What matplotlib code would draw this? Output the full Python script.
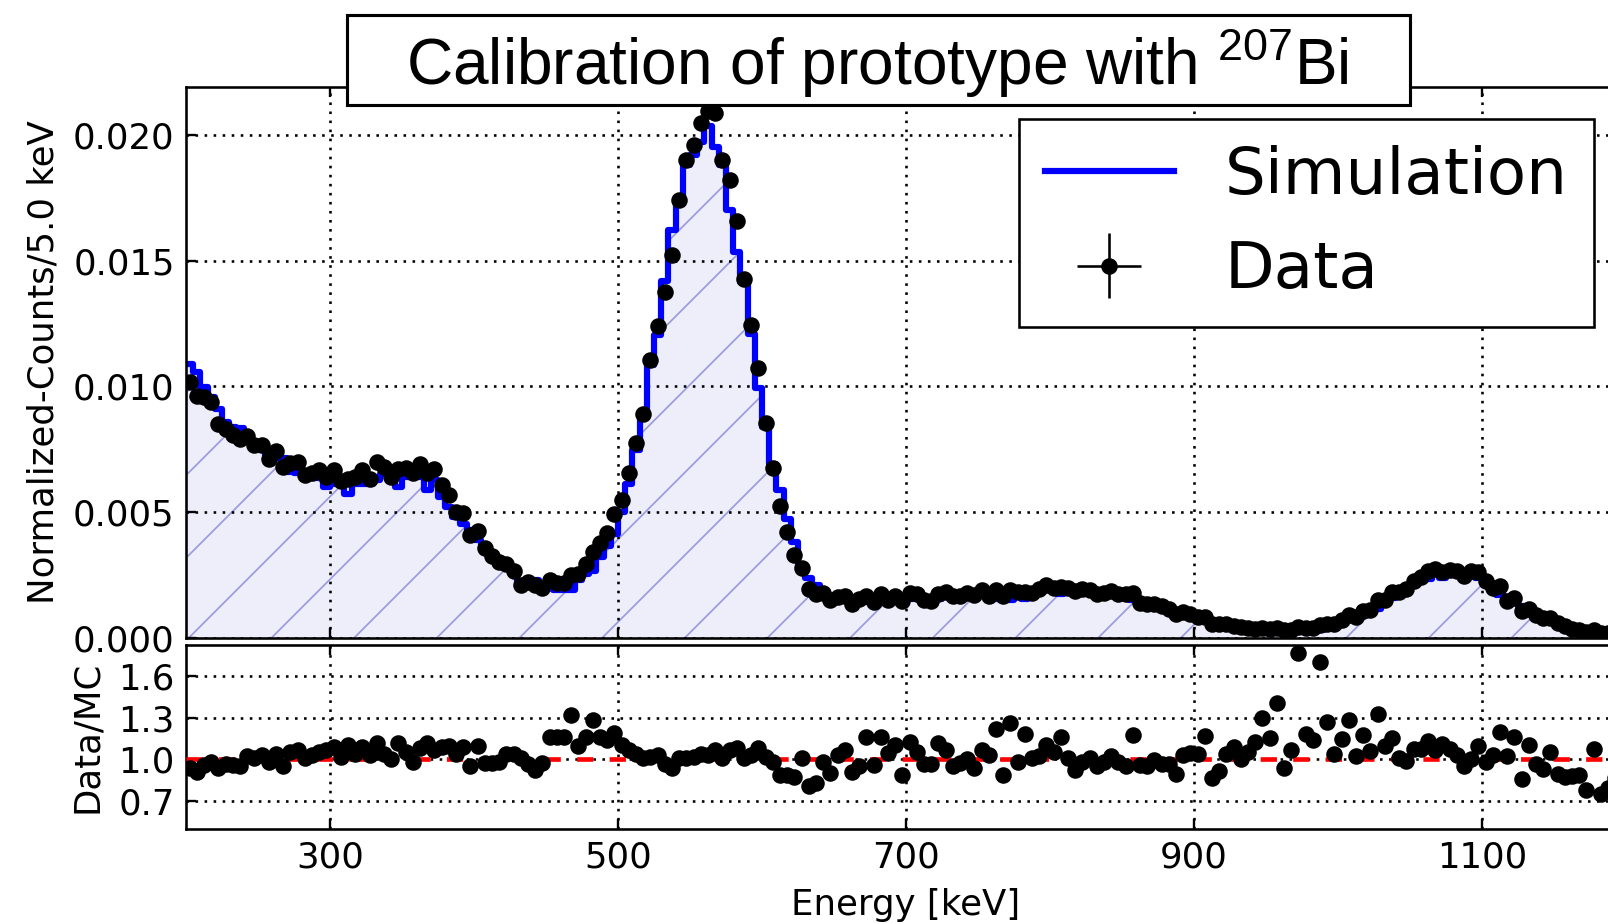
import matplotlib
matplotlib.use('Agg')
import matplotlib.pyplot as plt
import numpy as np
from matplotlib.patches import Rectangle
from matplotlib.ticker import FormatStrFormatter

plt.rcParams['mathtext.fontset'] = 'custom'
plt.rcParams['mathtext.rm'] = 'Liberation Sans'
plt.rcParams['hatch.linewidth'] = 0.5

DPI = 248  # small figure at high dpi, sizes below are in points

# 5 keV bins from 200 to 1200 keV
bin_edges = np.arange(200, 1205, 5)

# simulation, normalized counts per bin (x 1e-3)
mc = np.array([
    10.9, 10.57, 9.97, 9.58, 9.1, 8.58, 8.39, 8.33, 7.86, 7.59,
    7.46, 7.26, 7.14, 7.14, 6.6, 6.55, 6.4, 6.35, 6.35, 6.0,
    6.14, 6.14, 5.74, 6.14, 6.14, 6.14, 6.27, 6.53, 6.4, 6.0,
    6.4, 6.67, 6.4, 5.87, 6.27, 5.6, 5.2, 4.8, 4.55, 4.29,
    3.89, 3.69, 3.36, 3.1, 2.83, 2.57, 2.1, 2.3, 2.3, 2.04,
    1.97, 1.9, 1.9, 1.9, 2.32, 2.54, 2.68, 3.24, 3.66, 4.15,
    5.0, 6.13, 7.46, 8.8, 10.85, 12.04, 14.2, 16.2, 17.25, 18.8,
    19.2, 19.7, 20.35, 19.5, 18.8, 17.0, 15.35, 14.15, 12.1, 9.93,
    8.38, 6.9, 5.9, 4.72, 3.8, 2.75, 2.39, 2.11, 1.83, 1.69,
    1.57, 1.57, 1.51, 1.64, 1.44, 1.51, 1.51, 1.44, 1.51, 1.64,
    1.57, 1.64, 1.57, 1.51, 1.57, 1.71, 1.77, 1.71, 1.77, 1.84,
    1.77, 1.64, 1.55, 1.9, 1.5, 1.85, 1.55, 1.77, 1.9, 1.9,
    1.9, 1.75, 1.97, 2.04, 1.97, 1.9, 1.84, 1.84, 1.84, 1.77,
    1.84, 1.51, 1.44, 1.44, 1.38, 1.31, 1.2, 1.08, 1.0, 0.92,
    0.8, 0.73, 0.66, 0.6, 0.53, 0.45, 0.42, 0.38, 0.33, 0.3,
    0.32, 0.27, 0.33, 0.3, 0.25, 0.33, 0.36, 0.3, 0.45, 0.55,
    0.62, 0.7, 0.83, 0.93, 1.06, 1.15, 1.4, 1.59, 1.8, 1.98,
    2.12, 2.25, 2.35, 2.58, 2.38, 2.51, 2.58, 2.58, 2.65, 2.38,
    2.31, 1.92, 1.72, 1.46, 1.39, 1.26, 1.06, 0.93, 0.86, 0.75,
    0.66, 0.55, 0.42, 0.36, 0.32, 0.28, 0.26, 0.24, 0.22, 0.2,
]) * 1e-3

# measured data, same bins (x 1e-3)
data = np.array([
    10.19, 9.62, 9.57, 9.39, 8.51, 8.32, 8.05, 7.91, 8.02, 7.67,
    7.68, 7.11, 7.43, 6.78, 6.96, 7.01, 6.46, 6.54, 6.67, 6.42,
    6.69, 6.26, 6.31, 6.39, 6.69, 6.32, 6.99, 6.79, 6.40, 6.72,
    6.75, 6.54, 6.91, 6.55, 6.71, 6.10, 5.69, 4.99, 4.96, 4.08,
    4.26, 3.58, 3.26, 3.04, 2.94, 2.67, 2.12, 2.23, 2.12, 1.98,
    2.29, 2.20, 2.20, 2.51, 2.55, 2.95, 3.43, 3.76, 4.17, 4.94,
    5.50, 6.56, 7.76, 8.89, 11.07, 12.40, 13.77, 15.23, 17.42, 18.99,
    19.58, 20.49, 20.96, 20.87, 18.99, 18.19, 16.58, 14.29, 12.46, 10.72,
    8.55, 6.76, 5.25, 4.20, 3.31, 2.78, 1.94, 1.75, 1.79, 1.52,
    1.62, 1.68, 1.37, 1.56, 1.67, 1.45, 1.75, 1.51, 1.66, 1.46,
    1.77, 1.73, 1.52, 1.46, 1.75, 1.83, 1.68, 1.66, 1.77, 1.72,
    1.89, 1.69, 1.89, 1.69, 1.89, 1.81, 1.83, 1.79, 1.94, 2.09,
    2.00, 2.03, 1.99, 1.88, 1.93, 1.92, 1.75, 1.80, 1.88, 1.73,
    1.75, 1.77, 1.38, 1.37, 1.37, 1.27, 1.16, 0.97, 1.03, 0.96,
    0.83, 0.85, 0.57, 0.55, 0.55, 0.49, 0.42, 0.40, 0.37, 0.39,
    0.37, 0.38, 0.31, 0.32, 0.44, 0.39, 0.41, 0.51, 0.57, 0.57,
    0.71, 0.90, 0.85, 1.09, 1.12, 1.52, 1.53, 1.83, 1.82, 1.96,
    2.27, 2.41, 2.66, 2.76, 2.64, 2.69, 2.66, 2.45, 2.65, 2.61,
    2.26, 1.98, 2.06, 1.49, 1.61, 1.08, 1.17, 0.90, 0.80, 0.79,
    0.59, 0.48, 0.37, 0.32, 0.25, 0.30, 0.195, 0.19, 0.19, 0.18,
]) * 1e-3

centers = bin_edges[:-1] + 2.5
ratio = data / mc

fig = plt.figure(figsize=(1608 / DPI, 924 / DPI), dpi=DPI)
# the axes run past the right edge of the figure, as in the original crop
ax = fig.add_axes([0.1157, 0.3095, 0.8955, 0.5963])
ax2 = fig.add_axes([0.1157, 0.1028, 0.8955, 0.1991], sharex=ax)

grid_kw = dict(color='k', linestyle=(0, (1, 2.5)), linewidth=0.75)

ax.stairs(mc, bin_edges, fill=True, facecolor='#eeeefa', edgecolor='#9a9ae0',
          hatch='/', linewidth=0, zorder=1)
sim, = ax.step(bin_edges, np.append(mc, mc[-1]), where='post', color='#0000ff',
               lw=1.8, zorder=2, label='Simulation')
eb = ax.errorbar(centers, data, xerr=2.5, yerr=5e-5, fmt='o', color='k', ms=3.8,
                 elinewidth=0.75, capsize=0, zorder=4, label='Data')

ax.set_xlim(200, 1200)
ax.set_ylim(0, 0.0219)
ax.set_yticks([0.0, 0.005, 0.010, 0.015, 0.020])
ax.yaxis.set_major_formatter(FormatStrFormatter('%.3f'))
ax.grid(True, **grid_kw)
ax.set_ylabel('Normalized-Counts/5.0 keV', fontsize=10.3)
ax.yaxis.set_label_coords(-0.0875, 0.5)
ax.tick_params(labelbottom=False)

leg = ax.legend(handles=[sim, eb], labels=['Simulation', 'Data'], loc='upper right',
                fontsize=18.7, fancybox=False, edgecolor='k', framealpha=1)
leg.get_frame().set_linewidth(0.75)

ax2.axhline(1.0, color='r', linestyle=(0, (3.5, 3.5)), lw=1.35, zorder=2.7)
ax2.plot(centers, ratio, 'o', color='k', ms=3.8, zorder=3)
ax2.set_ylim(0.5, 1.82)
ax2.set_yticks([0.7, 1.0, 1.3, 1.6])
ax2.yaxis.set_major_formatter(FormatStrFormatter('%.1f'))
ax2.set_xticks([300, 500, 700, 900, 1100])
ax2.grid(True, **grid_kw)
ax2.set_ylabel('Data/MC', fontsize=10.3)
ax2.yaxis.set_label_coords(-0.057, 0.5)
ax2.set_xlabel('Energy [keV]', fontsize=10.3)
ax2.xaxis.set_label_coords(0.5, -0.32)

for a in (ax, ax2):
    a.tick_params(direction='in', length=3, width=0.68, labelsize=10.3,
                  top=True, right=True, pad=3.3)
    for s in a.spines.values():
        s.set_linewidth(0.75)

# boxed title sitting over the top spine
fig.add_artist(Rectangle((347 / 1608, 1 - 105 / 924), 1063 / 1608, 90 / 924,
                         transform=fig.transFigure, facecolor='white',
                         edgecolor='black', lw=0.9, zorder=10))
fig.text(877 / 1608, 1 - 85 / 924, r'Calibration of prototype with $^{\mathrm{207}}$Bi',
         ha='center', va='baseline', fontsize=18.6, family='Liberation Sans', zorder=11)

fig.savefig('out.png', dpi=DPI)
